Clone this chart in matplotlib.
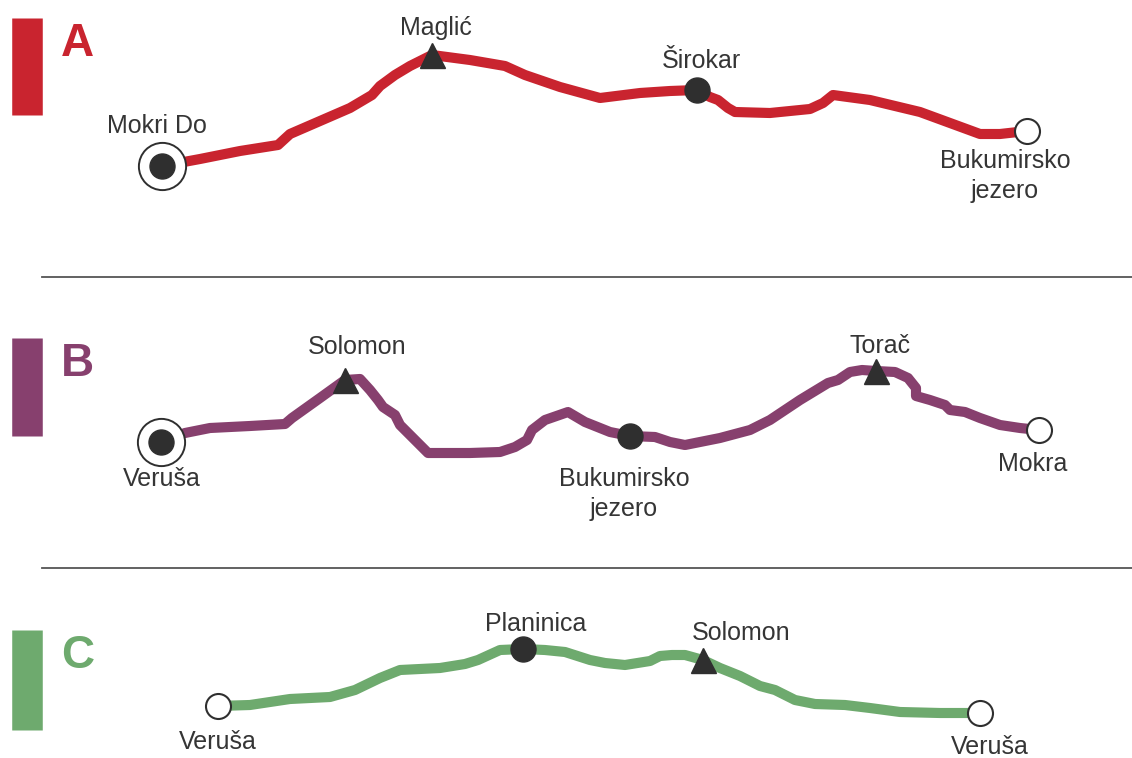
import matplotlib
matplotlib.use("Agg")
import matplotlib.pyplot as plt

plt.rcParams['font.family'] = ['Liberation Sans', 'DejaVu Sans']

# ---- data (profile traces, horizontal distance vs. drawn height) ----
route_names = ["A", "B", "C"]
route_colors = ["#c9242f", "#87406e", "#6eaa6e"]

a_x = [162, 200, 240, 278, 290, 320, 350, 372, 380, 395, 410, 432, 470, 505, 525, 560, 600, 640, 670, 697,
       710, 718, 728, 735, 770, 810, 823, 833, 870, 920, 950, 980, 1000, 1027]
a_y = [166, 159, 151, 145, 134, 121, 108, 95, 86, 75, 66, 55, 60, 66, 75, 87, 98, 93, 91, 90,
       97, 100, 108, 112, 113, 109, 103, 95, 100, 112, 123, 134, 134, 131]

b_x = [161, 185, 210, 250, 285, 292, 320, 345, 360, 370, 378, 383, 395, 400, 415, 428, 470, 500, 515, 527,
       532, 545, 568, 585, 610, 630, 655, 670, 685, 720, 750, 770, 800, 828, 838, 850, 862, 876, 895, 908,
       916, 916, 930, 945, 950, 965, 980, 1000, 1020, 1039]
b_y = [442, 433, 428, 426, 424, 418, 398, 380, 379, 390, 400, 407, 415, 425, 440, 453, 453, 452, 447, 440,
       430, 420, 412, 422, 432, 436, 437, 442, 445, 438, 430, 420, 400, 383, 380, 372, 370, 371, 372, 378,
       388, 396, 400, 405, 410, 412, 418, 425, 428, 430]

c_x = [218, 250, 290, 330, 355, 380, 400, 440, 465, 478, 500, 523, 545, 565, 590, 605, 625, 650, 660, 672,
       685, 703, 720, 740, 760, 775, 795, 815, 845, 870, 900, 940, 980]
c_y = [706, 705, 699, 697, 690, 678, 670, 668, 664, 660, 650, 649, 650, 652, 660, 663, 665, 661, 656, 655,
       655, 660, 668, 676, 686, 690, 700, 704, 705, 708, 712, 713, 713]

# waypoints: (route index, point index in trace, kind, label, label dx, label dy)
wp_route = [0, 0, 0, 0, 1, 1, 1, 1, 1, 2, 2, 2, 2]
wp_index = [0, 11, 19, 33, 0, 7, 25, 37, 49, 0, 11, 21, 32]
wp_kind = ["start", "peak", "dot", "end", "start", "peak", "dot", "peak", "end", "end", "dot", "peak", "end"]
wp_label = ["Mokri Do", "Maglić", "Širokar", "Bukumirsko\njezero", "Veruša", "Solomon",
            "Bukumirsko\njezero", "Torač", "Mokra", "Veruša", "Planinica", "Solomon", "Veruša"]
wp_ldx = [-5, 4, 4, -22, 1, 12, -6, 4, -6, 0, 13, 38, 10]
wp_ldy = [-40, -27, -29, 45, 37, -33, 58, -25, 34, 36, -25, -27, 34]

separator_y = [277, 568]
bar_top = [18, 338, 630]
bar_bottom = [115, 436, 730]

traces_x = [a_x, b_x, c_x]
traces_y = [a_y, b_y, c_y]

dark = "#2f2f2f"
txt = "#353535"

fig = plt.figure(figsize=(11.32, 7.58), dpi=100)
ax = fig.add_axes([0, 0, 1, 1])
ax.set_xlim(0, 1132)
ax.set_ylim(758, 0)
ax.axis("off")

for i in range(3):
    ax.plot([27, 27], [bar_top[i], bar_bottom[i]], color=route_colors[i], lw=22, solid_capstyle="butt")
    ax.text(61, bar_top[i] + 4, route_names[i], color=route_colors[i], fontsize=33, fontweight="bold",
            ha="left", va="top")
    ax.plot(traces_x[i], traces_y[i], color=route_colors[i], lw=7.3, solid_capstyle="round",
            solid_joinstyle="round", zorder=2)

for y in separator_y:
    ax.plot([42, 1132], [y, y], color="#555555", lw=1.3)

for r, k, kind, lab, dx, dy in zip(wp_route, wp_index, wp_kind, wp_label, wp_ldx, wp_ldy):
    x = traces_x[r][k]
    y = traces_y[r][k]
    if kind == "start":
        ax.plot(x, y, "o", ms=34, mfc="white", mec=dark, mew=1.4, zorder=3)
        ax.plot(x, y, "o", ms=18, mfc=dark, mec=dark, zorder=5)
    elif kind == "dot":
        ax.plot(x, y, "o", ms=18, mfc=dark, mec=dark, zorder=5)
    elif kind == "end":
        ax.plot(x, y, "o", ms=18, mfc="white", mec=dark, mew=1.5, zorder=5)
    elif kind == "peak":
        ax.plot(x, y, "^", ms=18, mfc=dark, mec=dark, zorder=5)
    ax.text(x + dx, y + dy, lab, fontsize=18, color=txt, ha="center", va="center",
            linespacing=1.35, zorder=6)

fig.savefig("out.png", dpi=100, facecolor="white")
